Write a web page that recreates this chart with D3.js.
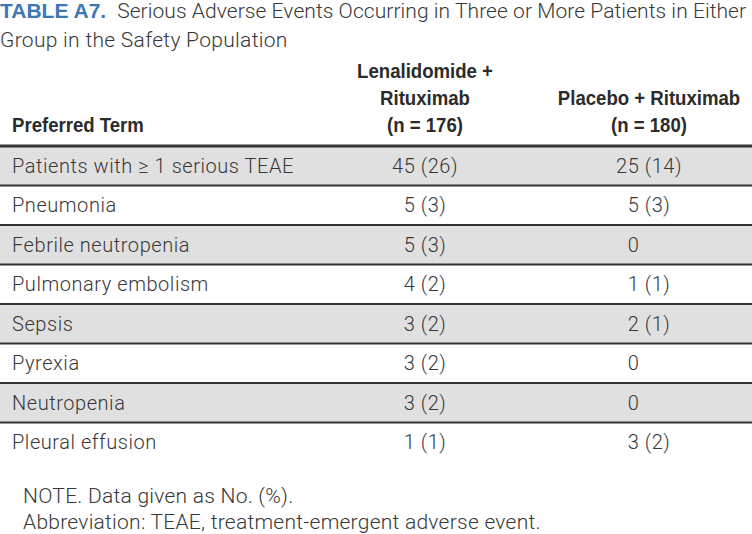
<!DOCTYPE html>
<html>
<head>
<meta charset="utf-8">
<script src="https://cdn.jsdelivr.net/npm/d3@7"></script>
<style>
  body { margin: 0; background: #fff; }
  svg { display: block; }
  .light { font-family: Roboto, "Liberation Sans", sans-serif; font-weight: 300; fill: #383838; }
  .head { font-family: "Liberation Sans Narrow", "Arial Narrow", "Liberation Sans", sans-serif; font-weight: bold; fill: #2b2b2b; }
</style>
</head>
<body>
<div id="chart"></div>
<script>
// table contents
var terms = ["Patients with \u2265 1 serious TEAE", "Pneumonia", "Febrile neutropenia",
  "Pulmonary embolism", "Sepsis", "Pyrexia", "Neutropenia", "Pleural effusion"];
var len_n = [45, 5, 5, 4, 3, 3, 3, 1];
var len_pct = [26, 3, 3, 2, 2, 2, 2, 1];
var pla_n = [25, 5, 0, 1, 2, 0, 0, 3];
var pla_pct = [14, 3, 0, 1, 1, 0, 0, 2];
var groups = ["len", "pla"];
var notes = ["NOTE. Data given as No. (%).",
  "Abbreviation: TEAE, treatment-emergent adverse event."];

function fmt(n, p) { return n === 0 ? "0" : n + " (" + p + ")"; }

var width = 752, height = 534;
var fs = 20;
var squeeze = 0.93; // header type is condensed

var svg = d3.select("#chart").append("svg")
  .attr("width", width)
  .attr("height", height);

// title
var t1 = svg.append("text").attr("x", 0).attr("y", 18).style("font-size", "21px");
t1.append("tspan").attr("class", "head").style("fill", "#3b78b4").text("TABLE A7.");
t1.append("tspan").attr("class", "light").attr("dx", 11)
  .style("letter-spacing", "0.06px")
  .text("Serious Adverse Events Occurring in Three or More Patients in Either");
svg.append("text").attr("class", "light").attr("x", 0).attr("y", 47)
  .style("font-size", "21px").style("letter-spacing", "0.3px")
  .text("Group in the Safety Population");

var y = d3.scaleBand().domain(terms).range([146, 146 + 8 * 39.5]);
var x = d3.scaleOrdinal().domain(groups).range([425, 649]);

// header
var hdr = svg.append("g").attr("class", "head").style("font-size", fs + "px");
function htext(tx, ty, anchor, s) {
  hdr.append("text")
    .attr("transform", "translate(" + tx + "," + ty + ") scale(" + squeeze + ",1)")
    .attr("text-anchor", anchor).text(s);
}
htext(12, 132, "start", "Preferred Term");
[["Lenalidomide +", 78], ["Rituximab", 105], ["(n = 176)", 132]].forEach(function(d) {
  htext(x("len"), d[1], "middle", d[0]);
});
[["Placebo + Rituximab", 105], ["(n = 180)", 132]].forEach(function(d) {
  htext(x("pla"), d[1], "middle", d[0]);
});

// row backgrounds
svg.selectAll("rect.band").data(terms).join("rect")
  .attr("class", "band")
  .attr("x", 0).attr("width", width)
  .attr("y", function(d) { return y(d); })
  .attr("height", y.bandwidth())
  .attr("fill", function(d, i) { return i % 2 === 0 ? "#e1e0e1" : "#fff"; });

// separators
svg.selectAll("line.sep").data(terms.slice(0, -1)).join("line")
  .attr("class", "sep")
  .attr("x1", 0).attr("x2", width)
  .attr("y1", function(d) { return y(d) + y.bandwidth(); })
  .attr("y2", function(d) { return y(d) + y.bandwidth(); })
  .attr("stroke", "#333").attr("stroke-width", 2);
svg.append("line").attr("x1", 0).attr("x2", width)
  .attr("y1", y(terms[0])).attr("y2", y(terms[0]))
  .attr("stroke", "#333").attr("stroke-width", 3);

var body = svg.append("g").attr("class", "light")
  .style("font-size", fs + "px").style("letter-spacing", "0.55px");
var ty = function(d) { return y(d) + y.bandwidth() / 2 + 7; };

body.selectAll("text.term").data(terms).join("text")
  .attr("class", "term")
  .attr("x", 12).attr("y", ty).text(function(d) { return d; });

// width of a one digit entry, used to left align zeros
var probe = body.append("text").text("5 (3)");
var refW = probe.node().getComputedTextLength();
probe.remove();

function drawCol(key, ns, ps) {
  body.selectAll("text." + key).data(terms).join("text")
    .attr("class", key)
    .attr("y", ty)
    .attr("x", function(d, i) { return ns[i] === 0 ? x(key) - refW / 2 : x(key); })
    .attr("text-anchor", function(d, i) { return ns[i] === 0 ? "start" : "middle"; })
    .text(function(d, i) { return fmt(ns[i], ps[i]); });
}
drawCol("len", len_n, len_pct);
drawCol("pla", pla_n, pla_pct);

// footnotes
svg.selectAll("text.note").data(notes).join("text")
  .attr("class", "note light")
  .attr("x", 23)
  .attr("y", function(d, i) { return 503 + i * 26; })
  .style("font-size", "21px").style("letter-spacing", "0.25px")
  .text(function(d) { return d; });
</script>
</body>
</html>
